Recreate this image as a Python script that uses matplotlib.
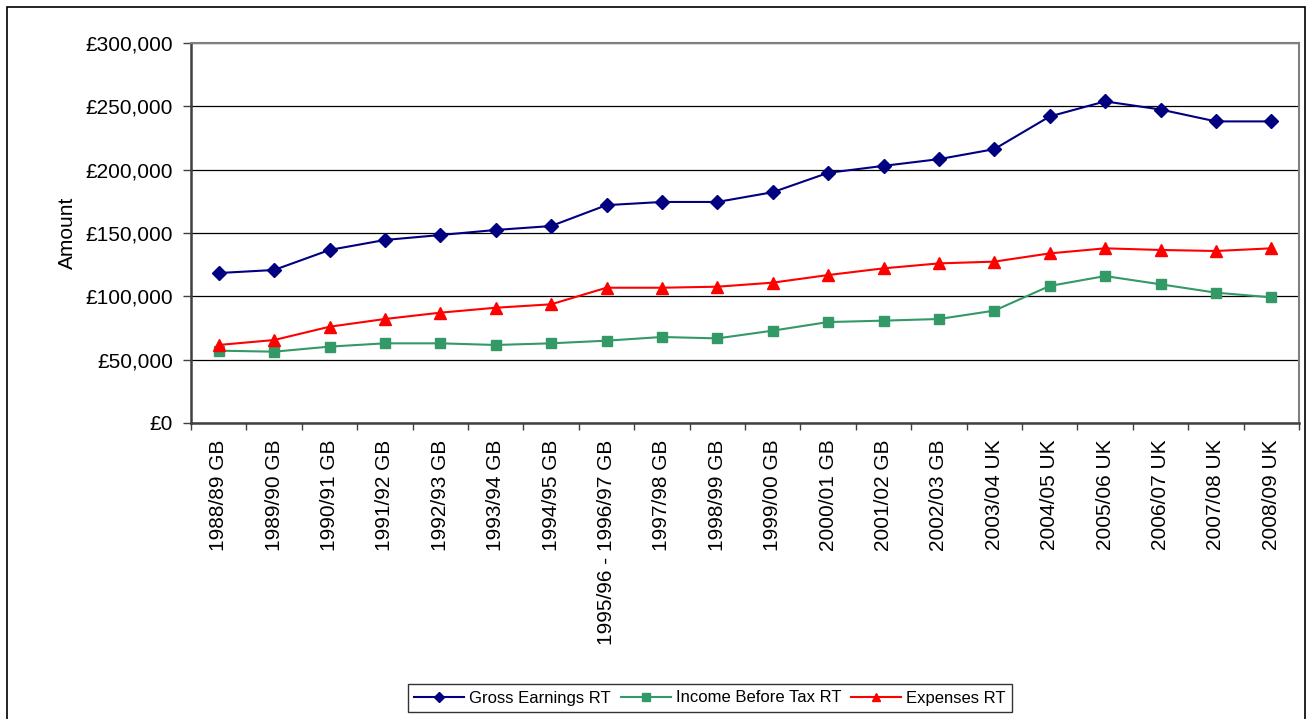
import matplotlib
matplotlib.use("Agg")
import matplotlib.pyplot as plt
from matplotlib.patches import Rectangle
from matplotlib.ticker import FuncFormatter, MultipleLocator
import numpy as np

plt.rcParams['font.family'] = ['Liberation Sans', 'DejaVu Sans']

categories = ["1988/89 GB", "1989/90 GB", "1990/91 GB", "1991/92 GB", "1992/93 GB",
              "1993/94 GB", "1994/95 GB", "1995/96 - 1996/97 GB", "1997/98 GB",
              "1998/99 GB", "1999/00 GB", "2000/01 GB", "2001/02 GB", "2002/03 GB",
              "2003/04 UK", "2004/05 UK", "2005/06 UK", "2006/07 UK", "2007/08 UK",
              "2008/09 UK"]

gross_earnings = [118400, 120800, 136600, 144500, 148400, 152400, 155500, 172000,
                  174500, 174500, 182200, 197500, 203000, 208300, 216200, 242000,
                  253900, 247500, 238100, 238100]
income_before_tax = [57100, 56300, 60300, 62900, 62900, 61600, 62900, 65000,
                     67900, 66800, 72900, 79700, 80800, 82100, 88700, 108200,
                     116000, 109500, 102900, 99200]
expenses = [61600, 65500, 76000, 82100, 87100, 91000, 93700, 106800, 106800,
            107600, 110800, 116800, 122100, 126000, 127400, 133900, 137900,
            136600, 135800, 137900]

series_names = ["Gross Earnings RT", "Income Before Tax RT", "Expenses RT"]

W, H = 1308, 719
fig = plt.figure(figsize=(W / 100, H / 100), dpi=100)

# outer chart-area border
fig.patches.append(Rectangle((7 / W, -0.01), 1298 / W, (H - 7) / H + 0.01,
                             transform=fig.transFigure, fill=False,
                             edgecolor='black', linewidth=1.2))

ax = fig.add_axes([191 / W, (H - 423) / H, (1299 - 191) / W, (423 - 43) / H])

x = np.arange(len(categories))
ax.plot(x, gross_earnings, color='#000080', marker='D', markersize=7,
        linewidth=1.5, label=series_names[0], zorder=3)
ax.plot(x, income_before_tax, color='#339966', marker='s', markersize=6.5,
        linewidth=1.5, label=series_names[1], zorder=3)
ax.plot(x, expenses, color='#FF0000', marker='^', markersize=8,
        linewidth=1.5, label=series_names[2], zorder=3)

ax.set_xlim(-0.5, len(categories) - 0.5)
ax.set_ylim(0, 300000)
ax.yaxis.set_major_locator(MultipleLocator(50000))
ax.yaxis.set_major_formatter(FuncFormatter(lambda v, p: "£0" if v == 0 else f"£{int(v):,}"))
ax.grid(axis='y', color='black', linewidth=0.9)
ax.set_axisbelow(True)

ax.set_xticks(np.arange(-0.5, len(categories), 1.0))
ax.set_xticklabels([])
ax.set_xticks(x, minor=True)
ax.set_xticklabels(categories, minor=True, rotation=90, fontsize=15, va='top', ha='center')
ax.tick_params(axis='x', which='minor', length=0, pad=12)
ax.tick_params(axis='x', which='major', length=5, width=1, color='#404040', direction='out')
ax.tick_params(axis='y', length=6, width=1, color='#404040', labelsize=15, pad=7)

for s in ['left', 'bottom']:
    ax.spines[s].set_color('#404040')
    ax.spines[s].set_linewidth(1.8)
for s in ['top', 'right']:
    ax.spines[s].set_color('#808080')
    ax.spines[s].set_linewidth(1.5)

ax.set_ylabel("Amount", fontsize=15, labelpad=12)
ax.yaxis.set_label_coords(-114 / (1299 - 191), 0.5)

leg = fig.legend(loc='center', bbox_to_anchor=(710 / W, (H - 698) / H), ncol=3,
                 fontsize=12, frameon=True, fancybox=False, edgecolor='black',
                 handlelength=3.0, handletextpad=0.3, columnspacing=0.6,
                 borderpad=0.4, markerscale=0.8)
leg.get_frame().set_linewidth(1.0)

fig.savefig("out.png", dpi=100)
